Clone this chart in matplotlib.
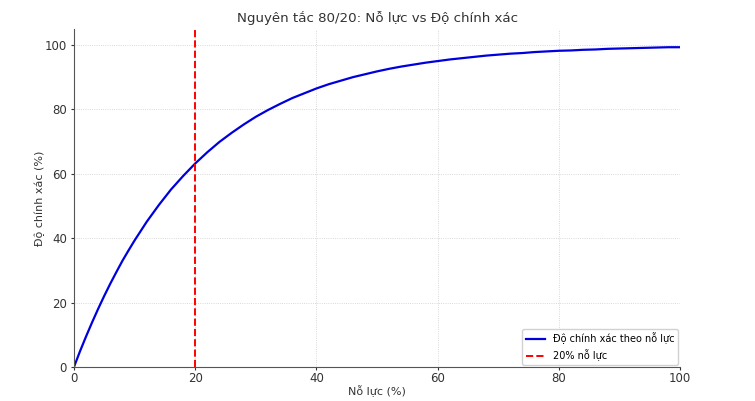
import matplotlib.pyplot as plt

# effort (%) and accuracy (%)
effort = [0, 1, 2, 3, 4, 5, 6, 7, 8, 9, 10, 12, 14, 16, 18, 20, 22, 24, 26, 28, 30, 32, 34, 36, 38, 40,
          42, 44, 46, 48, 50, 52, 54, 56, 58, 60, 62, 64, 66, 68, 70, 72, 74, 76, 78, 80,
          82, 84, 86, 88, 90, 92, 94, 96, 98, 100]
accuracy = [0.0, 4.9, 9.5, 13.9, 18.1, 22.1, 25.9, 29.5, 33.0, 36.2, 39.3, 45.1, 50.3, 55.1, 59.3, 63.2, 66.7, 69.9, 72.7, 75.3, 77.7, 79.8, 81.7, 83.5, 85.0, 86.5,
            87.8, 88.9, 90.0, 90.9, 91.8, 92.6, 93.3, 93.9, 94.5, 95.0, 95.5, 95.9, 96.3, 96.7, 97.0, 97.3, 97.5, 97.8, 98.0, 98.2,
            98.3, 98.5, 98.6, 98.8, 98.9, 99.0, 99.1, 99.2, 99.3, 99.3]
cut = 20

plt.rcParams['font.family'] = ['DejaVu Sans']
fig = plt.figure(figsize=(7.55, 4.01), dpi=100)
ax = fig.add_axes([0.098, 0.085, 0.803, 0.843])

ax.plot(effort, accuracy, color='#0000dd', lw=1.6, label='Độ chính xác theo nỗ lực')
ax.axvline(cut, color='red', ls='--', lw=1.4, label='20% nỗ lực')

ax.set_xlim(0, 100)
ax.set_ylim(0, 105)
ax.set_title('Nguyên tắc 80/20: Nỗ lực vs Độ chính xác', fontsize=9.6, color='#333333', pad=5)
ax.set_xlabel('Nỗ lực (%)', fontsize=8, color='#333333', labelpad=0.5)
ax.set_ylabel('Độ chính xác (%)', fontsize=8, color='#333333', labelpad=0)
ax.tick_params(labelsize=8.5, colors='#333333', length=2, pad=1.5)
ax.tick_params(axis='y', pad=3)
ax.grid(True, ls=':', color='#cccccc', lw=0.6)
for s in ['top', 'right']:
    ax.spines[s].set_visible(False)
for s in ['left', 'bottom']:
    ax.spines[s].set_color('#555555')
ax.legend(loc='lower right', fontsize=7, framealpha=0.9, borderaxespad=0.2)

fig.savefig('out.png', dpi=100)
